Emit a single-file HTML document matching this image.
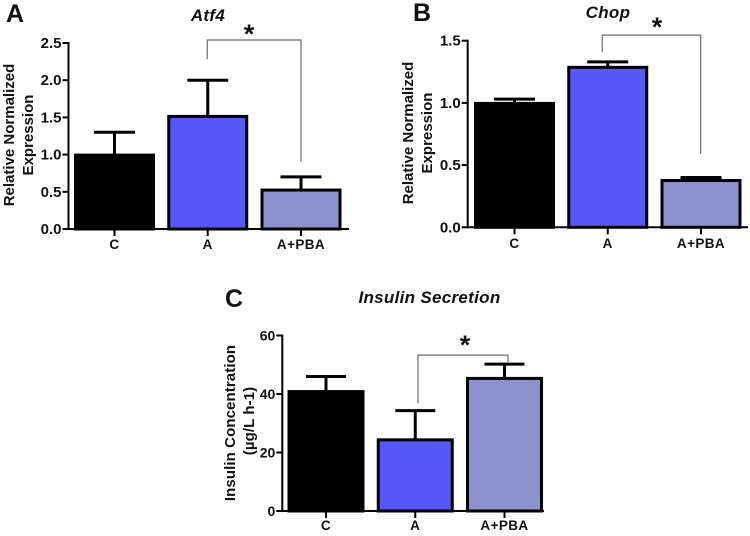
<!DOCTYPE html>
<html lang="en">
<head>
<meta charset="utf-8">
<title>Atf4, Chop and Insulin Secretion bar charts</title>
<style>
html,body{margin:0;padding:0;background:#fff;}
svg{display:block;}
text{font-family:"Liberation Sans",Arial,sans-serif;font-weight:bold;fill:#111;}
.tick{font-size:15px;}
.tick-c{font-size:14px;}
.cat{font-size:13.5px;letter-spacing:.4px;}
.ylab{font-size:15px;}
.ylab-c{font-size:15px;letter-spacing:.1px;}
.title{font-size:17px;font-style:italic;letter-spacing:.3px;}
.letter{font-size:25px;}
.star{font-size:27px;font-weight:bold;}
</style>
</head>
<body>
<svg id="fig" xmlns="http://www.w3.org/2000/svg" width="750" height="536" viewBox="0 0 750 536">
  <rect x="0" y="0" width="750" height="536" fill="#fff"/>
  <g id="panel-a">
    <text class="letter" x="6" y="22">A</text>
    <text class="title" x="208" y="21" text-anchor="middle">Atf4</text>
    <text class="ylab" transform="translate(14,135) rotate(-90)" text-anchor="middle">Relative Normalized</text>
    <text class="ylab" transform="translate(33,135) rotate(-90)" text-anchor="middle">Expression</text>
    <text class="star" x="249" y="43" text-anchor="middle">*</text>
  </g>
  <g id="panel-b">
    <text class="letter" x="413" y="21">B</text>
    <text class="title" x="608" y="18" text-anchor="middle">Chop</text>
    <text class="ylab" transform="translate(413,133) rotate(-90)" text-anchor="middle">Relative Normalized</text>
    <text class="ylab" transform="translate(432,133) rotate(-90)" text-anchor="middle">Expression</text>
    <text class="star" x="657" y="36" text-anchor="middle">*</text>
  </g>
  <g id="panel-c">
    <text class="letter" x="225" y="307">C</text>
    <text class="title" x="429.5" y="303" text-anchor="middle">Insulin Secretion</text>
    <text class="ylab-c" transform="translate(235,423) rotate(-90)" text-anchor="middle">Insulin Concentration</text>
    <text class="ylab-c" transform="translate(254,421) rotate(-90)" text-anchor="middle">(µg/L h-1)</text>
    <text class="star" x="465" y="354" text-anchor="middle">*</text>
  </g>
</svg>
<script>
// Chart data
const categories = ['C', 'A', 'A+PBA'];
const barColors = ['#000000', '#5858fa', '#8c91cf'];

const atf4Means = [1.0, 1.52, 0.53];
const atf4ErrorTops = [1.30, 2.0, 0.70];
const atf4Ticks = ['0.0', '0.5', '1.0', '1.5', '2.0', '2.5'];
const atf4Bracket = [2.285, 2.54, 0.90];

const chopMeans = [1.0, 1.29, 0.38];
const chopErrorTops = [1.03, 1.33, 0.40];
const chopTicks = ['0.0', '0.5', '1.0', '1.5'];
const chopBracket = [1.41, 1.545, 0.59];

const insulinMeans = [41, 24.5, 45.5];
const insulinErrorTops = [46, 34.3, 50.2];
const insulinTicks = ['0', '20', '40', '60'];
const insulinBracket = [36.8, 53.3, 50.9];

const NS = 'http://www.w3.org/2000/svg';

function make(tag, parent, attrs) {
  const el = document.createElementNS(NS, tag);
  for (const k in attrs) el.setAttribute(k, attrs[k]);
  parent.appendChild(el);
  return el;
}

function drawPanel(id, cfg, means, tops, ticks, bracket) {
  const g = document.getElementById(id);
  const yMax = parseFloat(ticks[ticks.length - 1]);
  const y = v => cfg.y0 + (cfg.yTop - cfg.y0) * v / yMax;
  const x = i => cfg.xFirst + cfg.step * i;

  means.forEach((m, i) => {
    const err = make('line', g, {x1: x(i), x2: x(i), y1: y(m), y2: y(tops[i]), stroke: '#000', 'stroke-width': 3});
    
    
    const cap = make('line', g, {x1: x(i) - cfg.cap, x2: x(i) + cfg.cap, y1: y(tops[i]), y2: y(tops[i]), stroke: '#000', 'stroke-width': 3});
    
    
    const bar = make('rect', g, {
      x: x(i) - cfg.barW / 2 + 1.5,
      y: y(m) + 0.5,
      width: cfg.barW - 3,
      height: Math.max(0, y(0) - y(m) - 0.5),
      fill: barColors[i],
      stroke: '#000',
      'stroke-width': 3
    });
    
    
  });

  const yAxis = make('line', g, {x1: cfg.xAxis, x2: cfg.xAxis, y1: y(yMax) - 1, y2: y(0) + 1, stroke: '#000', 'stroke-width': 2});
  
  
  const xAxis = make('line', g, {x1: cfg.xAxis - 1, x2: cfg.xEnd, y1: y(0), y2: y(0), stroke: '#000', 'stroke-width': 2});
  
  

  ticks.forEach(t => {
    const v = parseFloat(t);
    const mark = make('line', g, {x1: cfg.xAxis - 6, x2: cfg.xAxis, y1: y(v), y2: y(v), stroke: '#000', 'stroke-width': 2});
    
    
    const label = make('text', g, {class: cfg.tickClass, x: cfg.xAxis - 7, y: y(v) + 5, 'text-anchor': 'end'});
    label.textContent = t;
    
    
  });

  categories.forEach((c, i) => {
    const mark = make('line', g, {x1: x(i), x2: x(i), y1: y(0), y2: y(0) + 7, stroke: '#000', 'stroke-width': 2});
    
    
    const label = make('text', g, {class: 'cat', x: x(i), y: cfg.catY, 'text-anchor': 'middle'});
    label.textContent = c;
    
    
  });

  const bx1 = x(1) + cfg.brL;
  const bx2 = x(2) + cfg.brR;
  const br = make('path', g, {
    d: 'M' + bx1 + ' ' + y(bracket[0]) + 'V' + y(bracket[1]) + 'H' + bx2 + 'V' + y(bracket[2]),
    fill: 'none',
    stroke: '#6e6e6e',
    'stroke-width': 1.2
  });
  
  
}

drawPanel('panel-a', {tickClass: 'tick', y0: 229, yTop: 43, xAxis: 68.5, xEnd: 349, xFirst: 114.5, step: 93.25, barW: 81, cap: 20.5, catY: 249, brL: -0.5, brR: 0}, atf4Means, atf4ErrorTops, atf4Ticks, atf4Bracket);
drawPanel('panel-b', {tickClass: 'tick', y0: 227.3, yTop: 40.7, xAxis: 467.7, xEnd: 748, xFirst: 514.5, step: 93.25, barW: 81, cap: 20.5, catY: 248, brL: -5.5, brR: -0.3}, chopMeans, chopErrorTops, chopTicks, chopBracket);
drawPanel('panel-c', {tickClass: 'tick-c', y0: 511, yTop: 335.5, xAxis: 282.3, xEnd: 544, xFirst: 326, step: 89.25, barW: 77, cap: 20, catY: 530, brL: 2.7, brR: 3.5}, insulinMeans, insulinErrorTops, insulinTicks, insulinBracket);
</script>
</body>
</html>
